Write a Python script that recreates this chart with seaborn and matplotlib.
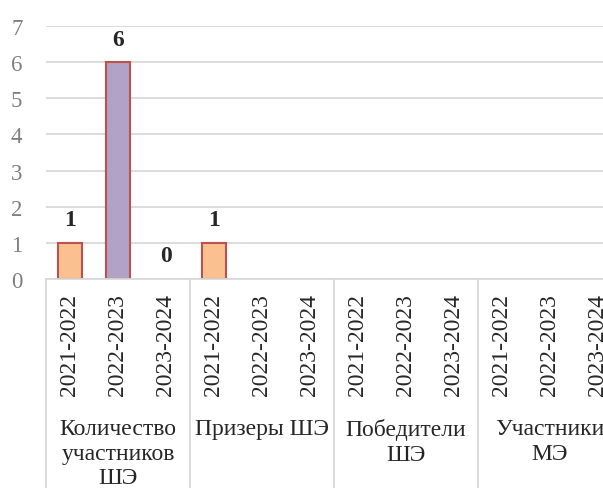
import numpy as np
import pandas as pd
import matplotlib
matplotlib.use("Agg")
import matplotlib.pyplot as plt
import matplotlib.transforms as mtransforms
import seaborn as sns

groups = ["Количество\nучастников\nШЭ", "Призеры ШЭ", "Победители\nШЭ", "Участники\nМЭ"]
years = ["2021-2022", "2022-2023", "2023-2024"]
values = [
    [1, 6, 0],
    [1, np.nan, np.nan],
    [np.nan, np.nan, np.nan],
    [np.nan, np.nan, np.nan],
]
year_colors = {"2021-2022": "#FAC090", "2022-2023": "#B2A2C7", "2023-2024": "#93CDDD"}

rows = []
for gi, g in enumerate(groups):
    for yi, y in enumerate(years):
        rows.append({"slot": f"{gi}-{yi}", "year": y, "value": values[gi][yi]})
df = pd.DataFrame(rows)
order = list(df["slot"])

sns.set_style("white")
plt.rcParams["font.family"] = "serif"
plt.rcParams["font.serif"] = ["Liberation Serif"]
FONT = "Liberation Serif"
FS = 17

W, H = 603, 489
fig = plt.figure(figsize=(W / 100, H / 100), dpi=100)
ax = fig.add_axes([46 / W, 209 / H, 576 / W, 253 / H])

sns.barplot(data=df.dropna(), x="slot", y="value", hue="year", order=order,
            hue_order=years, palette=year_colors, saturation=1, dodge=False,
            width=0.52, edgecolor="#C0504D", linewidth=1.5, legend=False, ax=ax)

for p in ax.patches:
    if p.get_height() == 0:
        p.set_linewidth(0)

for c in ax.containers:
    ax.bar_label(c, fmt="%.0f", padding=9, fontsize=FS, fontweight="bold",
                 family=FONT)

ax.set_xlim(-0.5, len(order) - 0.5)
ax.set_ylim(0, 7)
ax.set_yticks(range(8))
ax.set_yticklabels([str(v) for v in range(8)], family=FONT, fontsize=16.5,
                   color="#7f7f7f")
ax.tick_params(axis="y", length=0, pad=17)
ax.set_xticks(range(len(order)))
ax.set_xticklabels([""] * len(order))
ax.tick_params(axis="x", length=0)
ax.set_xlabel("")
ax.set_ylabel("")
ax.yaxis.grid(True, color="#d9d9d9", linewidth=1.3)
ax.set_axisbelow(True)
for s in ["left", "right", "top"]:
    ax.spines[s].set_visible(False)
ax.spines["bottom"].set_color("#d9d9d9")
ax.spines["bottom"].set_linewidth(1.3)

trans = mtransforms.blended_transform_factory(ax.transData, fig.transFigure)
for i in range(len(groups) + 1):
    xb = i * 3 - 0.5
    ax.plot([xb, xb], [209 / H, 0], transform=trans, color="#d9d9d9",
            linewidth=1.3, clip_on=False)
for i, lab in enumerate(years * len(groups)):
    ax.text(i, (H - 294) / H, lab, transform=trans, ha="center", va="top",
            rotation=90, fontsize=FS, family=FONT, clip_on=False)
for i, g in enumerate(groups):
    ax.text(i * 3 + 1, (H - 419) / H, g, transform=trans, ha="center", va="top",
            multialignment="center", fontsize=FS, linespacing=1.22, family=FONT)

fig.savefig("out.png", dpi=100)
